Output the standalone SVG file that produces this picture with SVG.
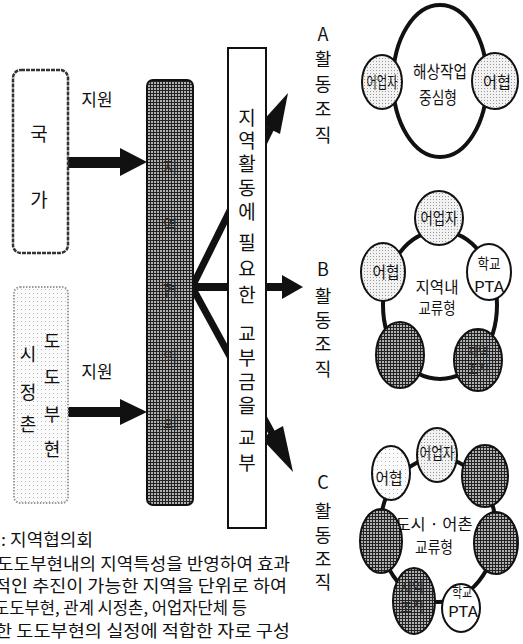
<svg xmlns="http://www.w3.org/2000/svg" width="523" height="644" viewBox="0 0 523 644">
<style>
.k{font-family:"Noto Sans CJK KR","Noto Sans",sans-serif;fill:#111;text-anchor:middle}
.cap{font-family:"Noto Sans CJK KR","Noto Sans",sans-serif;fill:#111;font-size:16.5px}
.ol{stroke:#111;stroke-width:2}
.ring{fill:none;stroke:#111;stroke-width:4}
.lt{fill:url(#dots)}
.dk{fill:url(#hatch)}
.wt{fill:#fff}
.faint{fill:#2a2a2a}
</style>
<defs>
<pattern id="hatch" width="3" height="3" patternUnits="userSpaceOnUse"><rect width="3" height="3" fill="#b0b0b0"/><path d="M0 0.5H3M0.5 0V3" stroke="#222" stroke-width="1"/></pattern>
<pattern id="dots" width="3" height="3" patternUnits="userSpaceOnUse"><rect width="3" height="3" fill="#f2f2f2"/><rect x="1" y="1" width="1" height="1" fill="#999"/></pattern>
<pattern id="dotsLight" width="4" height="4" patternUnits="userSpaceOnUse"><rect width="4" height="4" fill="#fbfbfb"/><rect x="1" y="1" width="1" height="1" fill="#bbb"/></pattern>
</defs>

<g id="connectors">
  <polygon points="68,157 120,157 120,148 147,162 120,176 120,168 68,168" fill="#111"/>
  <polygon points="68,407 120,407 120,399 147,412 120,425 120,417 68,417" fill="#111"/>
  <line x1="192" y1="287" x2="271" y2="128" stroke="#111" stroke-width="7"/>
  <polygon points="288,93 280,134 260,124" fill="#111"/>
  <line x1="192" y1="287" x2="284" y2="287" stroke="#111" stroke-width="8"/>
  <polygon points="282,275 303,287 282,299" fill="#111"/>
  <line x1="192" y1="287" x2="273" y2="435" stroke="#111" stroke-width="7"/>
  <polygon points="293,472 261,438 283,426" fill="#111"/>
</g>

<g id="nation">
  <rect x="13" y="70" width="55" height="183" rx="8" fill="#fff" stroke="#333" stroke-width="2.5" stroke-dasharray="4 1"/>
  <text class="k" font-size="19" x="39" y="141">국</text>
  <text class="k" font-size="19" x="39" y="207">가</text>
</g>
<g id="label-support-1"><text class="k" font-size="17" x="97" y="106">지원</text></g>

<g id="prefecture">
  <rect x="14" y="287" width="54" height="216" rx="6" fill="url(#dotsLight)" stroke="#999" stroke-width="2" stroke-dasharray="1.5 1.5"/>
  <text class="k" font-size="18"><tspan x="52" y="348">도</tspan><tspan x="52" y="384">도</tspan><tspan x="52" y="421">부</tspan><tspan x="52" y="456">현</tspan></text>
  <text class="k" font-size="18"><tspan x="28" y="361">시</tspan><tspan x="28" y="399">정</tspan><tspan x="28" y="431">촌</tspan></text>
</g>
<g id="label-support-2"><text class="k" font-size="17" x="97" y="378">지원</text></g>

<g id="council">
  <rect x="147" y="80" width="46" height="425" rx="6" class="dk" stroke="#111" stroke-width="2"/>
  <text class="k faint" font-size="16"><tspan x="170" y="173">지</tspan><tspan x="170" y="231">역</tspan><tspan x="170" y="296">협</tspan><tspan x="170" y="363">의</tspan><tspan x="170" y="429">회</tspan></text>
</g>

<g id="grant">
  <rect x="228" y="48" width="38" height="480" fill="#fff" stroke="#111" stroke-width="2"/>
  <text class="k" font-size="19"><tspan x="247" y="125">지</tspan><tspan x="247" y="148">역</tspan><tspan x="247" y="171">활</tspan><tspan x="247" y="195">동</tspan><tspan x="247" y="219">에</tspan><tspan x="247" y="250">필</tspan><tspan x="247" y="276">요</tspan><tspan x="247" y="302">한</tspan><tspan x="247" y="341">교</tspan><tspan x="247" y="365">부</tspan><tspan x="247" y="389">금</tspan><tspan x="247" y="413">을</tspan><tspan x="247" y="445">교</tspan><tspan x="247" y="470">부</tspan></text>
</g>

<g id="label-A"><text class="k" font-size="18"><tspan x="323" y="41">A</tspan><tspan x="323" y="66">활</tspan><tspan x="323" y="91">동</tspan><tspan x="323" y="116">조</tspan><tspan x="323" y="142">직</tspan></text></g>
<g id="label-B"><text class="k" font-size="18"><tspan x="323" y="276">B</tspan><tspan x="323" y="303">활</tspan><tspan x="323" y="327">동</tspan><tspan x="323" y="351">조</tspan><tspan x="323" y="376">직</tspan></text></g>
<g id="label-C"><text class="k" font-size="18"><tspan x="323" y="489">C</tspan><tspan x="323" y="518">활</tspan><tspan x="323" y="542">동</tspan><tspan x="323" y="566">조</tspan><tspan x="323" y="589">직</tspan></text></g>

<g id="org-A">
  <ellipse cx="440" cy="81" rx="47" ry="76" fill="#fff" stroke="#111" stroke-width="4"/>
  <text class="k" font-size="17" x="440" y="78" textLength="54" lengthAdjust="spacingAndGlyphs">해상작업</text>
  <text class="k" font-size="17" x="438" y="104" textLength="38" lengthAdjust="spacingAndGlyphs">중심형</text>
  <ellipse cx="382" cy="82" rx="20" ry="27" class="lt ol"/>
  <text class="k" font-size="16" x="382" y="88" textLength="31" lengthAdjust="spacingAndGlyphs">어업자</text>
  <ellipse cx="495" cy="81" rx="23" ry="28" class="lt ol"/>
  <text class="k" font-size="16" x="497" y="88" textLength="28" lengthAdjust="spacingAndGlyphs">어협</text>
</g>

<g id="org-B">
  <ellipse cx="440" cy="305" rx="57" ry="74" class="ring"/>
  <text class="k" font-size="16" x="437" y="293" textLength="43" lengthAdjust="spacingAndGlyphs">지역내</text>
  <text class="k" font-size="16" x="437" y="314" textLength="37" lengthAdjust="spacingAndGlyphs">교류형</text>
  <ellipse cx="439" cy="218" rx="24" ry="27" class="lt ol"/>
  <text class="k" font-size="16" x="439" y="224" textLength="37" lengthAdjust="spacingAndGlyphs">어업자</text>
  <ellipse cx="383" cy="272" rx="22" ry="29" class="lt ol"/>
  <text class="k" font-size="16" x="386" y="278" textLength="27" lengthAdjust="spacingAndGlyphs">어협</text>
  <ellipse cx="489" cy="272" rx="22" ry="28" class="wt ol"/>
  <text class="k" font-size="15" x="489" y="269" textLength="23" lengthAdjust="spacingAndGlyphs">학교</text>
  <text class="k" font-size="15" x="489" y="292" textLength="30" lengthAdjust="spacingAndGlyphs">PTA</text>
  <ellipse cx="400" cy="355" rx="24" ry="33" class="dk ol"/>
  <ellipse cx="478" cy="360" rx="24" ry="31" class="dk ol"/>
  <text class="k faint" font-size="13" x="478" y="356" textLength="22" lengthAdjust="spacingAndGlyphs">지역</text>
  <text class="k faint" font-size="13" x="478" y="374" textLength="22" lengthAdjust="spacingAndGlyphs">조직</text>
</g>

<g id="org-C">
  <ellipse cx="438" cy="530" rx="58" ry="72" class="ring"/>
  <text class="k" font-size="16" x="434" y="530" textLength="77" lengthAdjust="spacingAndGlyphs">도시 · 어촌</text>
  <text class="k" font-size="16" x="434" y="553" textLength="38" lengthAdjust="spacingAndGlyphs">교류형</text>
  <ellipse cx="437" cy="455" rx="20" ry="27" class="lt ol"/>
  <text class="k" font-size="16" x="437" y="459" textLength="35" lengthAdjust="spacingAndGlyphs">어업자</text>
  <ellipse cx="391" cy="473" rx="19" ry="27" class="ol" style="fill:url(#dotsLight)"/>
  <text class="k" font-size="16" x="389" y="484" textLength="27" lengthAdjust="spacingAndGlyphs">어협</text>
  <ellipse cx="485" cy="476" rx="23" ry="31" class="dk ol"/>
  <ellipse cx="381" cy="541" rx="21" ry="32" class="dk ol"/>
  <ellipse cx="496" cy="543" rx="22" ry="31" class="dk ol"/>
  <ellipse cx="414" cy="601" rx="21" ry="33" class="dk ol"/>
  <text class="k faint" font-size="14" x="412" y="592" textLength="24" lengthAdjust="spacingAndGlyphs">지역</text>
  <text class="k faint" font-size="14" x="412" y="612" textLength="24" lengthAdjust="spacingAndGlyphs">조직</text>
  <ellipse cx="461" cy="608" rx="19" ry="24" class="wt ol"/>
  <text class="k" font-size="14" x="462" y="597" textLength="20" lengthAdjust="spacingAndGlyphs">학교</text>
  <text class="k" font-size="15" x="463" y="617" textLength="30" lengthAdjust="spacingAndGlyphs">PTA</text>
</g>

<g id="caption">
  <text class="cap" x="1" y="546" textLength="92" lengthAdjust="spacingAndGlyphs">: 지역협의회</text>
  <text class="cap" x="-3" y="570" textLength="293" lengthAdjust="spacingAndGlyphs">도도부현내의 지역특성을 반영하여 효과</text>
  <text class="cap" x="-6" y="592" textLength="293" lengthAdjust="spacingAndGlyphs">적인 추진이 가능한 지역을 단위로 하여</text>
  <text class="cap" x="-6" y="614" textLength="253" lengthAdjust="spacingAndGlyphs">도도부현, 관계 시정촌, 어업자단체 등</text>
  <text class="cap" x="-5" y="637" textLength="295" lengthAdjust="spacingAndGlyphs">한 도도부현의 실정에 적합한 자로 구성</text>
</g>
</svg>
